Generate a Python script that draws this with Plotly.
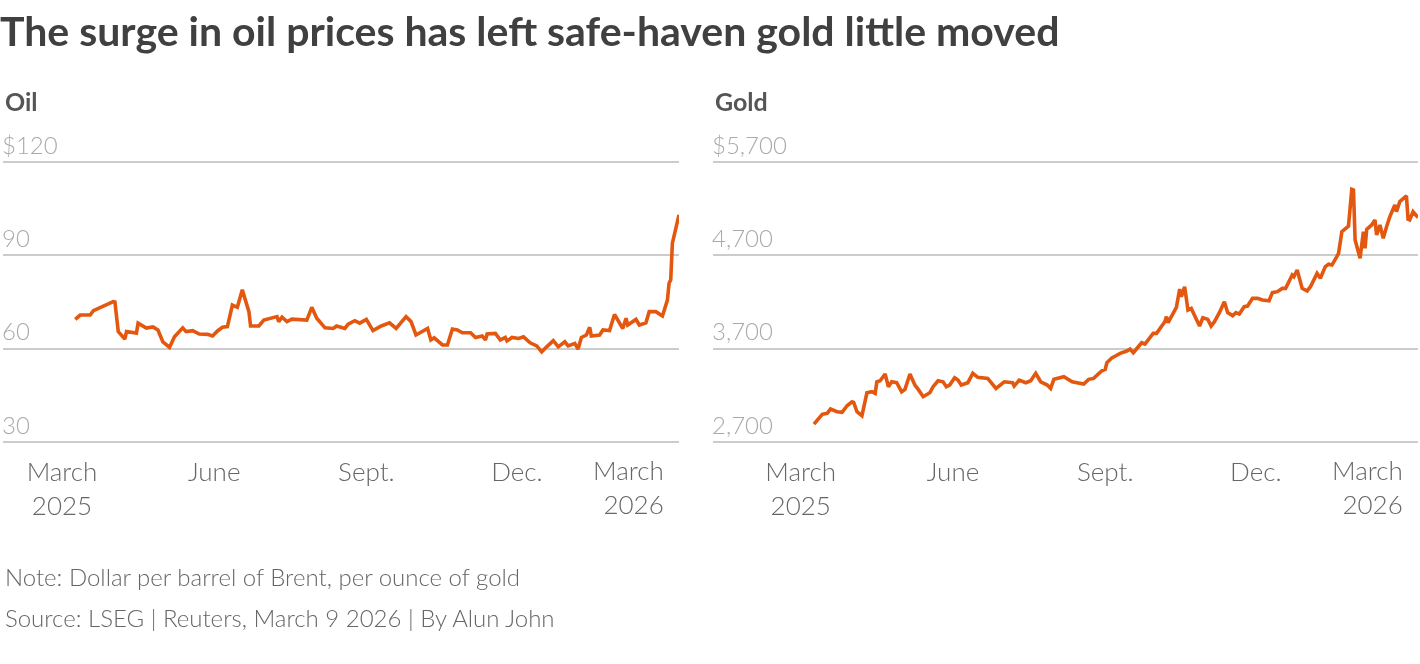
import plotly.graph_objects as go

# Brent crude, dollars per barrel
oil_dates = [
    "2025-03-09", "2025-03-12", "2025-03-18", "2025-03-20", "2025-03-26", "2025-04-01",
    "2025-04-02", "2025-04-03", "2025-04-04", "2025-04-08", "2025-04-09", "2025-04-15",
    "2025-04-16", "2025-04-21", "2025-04-25", "2025-04-28", "2025-05-01", "2025-05-05",
    "2025-05-08", "2025-05-13", "2025-05-15", "2025-05-19", "2025-05-23", "2025-05-28",
    "2025-05-31", "2025-06-03", "2025-06-06", "2025-06-09", "2025-06-12", "2025-06-15",
    "2025-06-18", "2025-06-22", "2025-06-23", "2025-06-28", "2025-07-01", "2025-07-09",
    "2025-07-10", "2025-07-12", "2025-07-15", "2025-07-18", "2025-07-23", "2025-07-27",
    "2025-07-30", "2025-08-02", "2025-08-07", "2025-08-12", "2025-08-14", "2025-08-19",
    "2025-08-21", "2025-08-25", "2025-08-28", "2025-09-01", "2025-09-05", "2025-09-09",
    "2025-09-10", "2025-09-15", "2025-09-19", "2025-09-25", "2025-09-28", "2025-10-01",
    "2025-10-08", "2025-10-10", "2025-10-12", "2025-10-17", "2025-10-20", "2025-10-23",
    "2025-10-26", "2025-10-29", "2025-11-03", "2025-11-06", "2025-11-10", "2025-11-12",
    "2025-11-13", "2025-11-18", "2025-11-21", "2025-11-24", "2025-11-25", "2025-11-28",
    "2025-12-02", "2025-12-05", "2025-12-09", "2025-12-13", "2025-12-16", "2025-12-19",
    "2025-12-23", "2025-12-26", "2025-12-30", "2026-01-01", "2026-01-05", "2026-01-07",
    "2026-01-09", "2026-01-12", "2026-01-14", "2026-01-15", "2026-01-20", "2026-01-22",
    "2026-01-26", "2026-01-29", "2026-02-03", "2026-02-05", "2026-02-06", "2026-02-11",
    "2026-02-13", "2026-02-17", "2026-02-19", "2026-02-23", "2026-02-27", "2026-03-02",
    "2026-03-03", "2026-03-04", "2026-03-05", "2026-03-09",
]
oil_prices = [
    69.4, 70.8, 70.8, 72.2, 73.7, 75.1,
    75.0, 70.0, 65.5, 63.1, 65.5, 65.0,
    68.2, 66.6, 67.0, 66.0, 62.2, 60.4,
    63.8, 66.7, 65.5, 65.8, 64.7, 64.6,
    64.1, 65.7, 66.9, 67.1, 74.0, 73.3,
    78.9, 71.9, 67.3, 67.3, 69.2, 70.3,
    68.7, 70.1, 68.7, 69.5, 69.2, 69.2,
    73.3, 69.8, 66.7, 66.5, 67.3, 66.5,
    67.9, 69.0, 68.2, 69.4, 65.8, 67.1,
    67.3, 68.3, 66.5, 70.3, 68.7, 64.4,
    66.5, 62.8, 63.5, 61.2, 61.2, 66.3,
    66.0, 65.1, 65.1, 63.6, 64.1, 62.8,
    64.7, 64.9, 62.8, 63.6, 62.5, 63.6,
    63.3, 63.8, 61.9, 60.9, 59.0, 60.6,
    62.6, 60.6, 62.2, 60.9, 61.7, 59.9,
    63.6, 64.4, 66.9, 64.1, 64.4, 66.0,
    65.8, 71.0, 66.5, 69.8, 67.6, 69.4,
    67.6, 68.3, 71.9, 71.9, 70.5, 75.6,
    81.0, 82.1, 93.9, 103.0,
]

# Gold, dollars per ounce
gold_dates = [
    "2025-03-09", "2025-03-11", "2025-03-14", "2025-03-17", "2025-03-19", "2025-03-23",
    "2025-03-26", "2025-03-29", "2025-04-01", "2025-04-02", "2025-04-04", "2025-04-07",
    "2025-04-10", "2025-04-13", "2025-04-15", "2025-04-16", "2025-04-18", "2025-04-21",
    "2025-04-23", "2025-04-25", "2025-04-28", "2025-05-01", "2025-05-03", "2025-05-06",
    "2025-05-09", "2025-05-11", "2025-05-14", "2025-05-18", "2025-05-20", "2025-05-23",
    "2025-05-26", "2025-05-28", "2025-05-30", "2025-06-02", "2025-06-04", "2025-06-06",
    "2025-06-10", "2025-06-13", "2025-06-16", "2025-06-22", "2025-06-24", "2025-06-27",
    "2025-07-02", "2025-07-07", "2025-07-08", "2025-07-11", "2025-07-15", "2025-07-18",
    "2025-07-21", "2025-07-24", "2025-07-28", "2025-07-30", "2025-08-01", "2025-08-06",
    "2025-08-07", "2025-08-12", "2025-08-15", "2025-08-19", "2025-08-22", "2025-08-25",
    "2025-08-30", "2025-09-01", "2025-09-02", "2025-09-05", "2025-09-08", "2025-09-10",
    "2025-09-14", "2025-09-16", "2025-09-18", "2025-09-23", "2025-09-25", "2025-09-30",
    "2025-10-02", "2025-10-07", "2025-10-08", "2025-10-09", "2025-10-14", "2025-10-16",
    "2025-10-17", "2025-10-19", "2025-10-21", "2025-10-23", "2025-10-28", "2025-10-30",
    "2025-11-02", "2025-11-04", "2025-11-06", "2025-11-09", "2025-11-12", "2025-11-14",
    "2025-11-17", "2025-11-19", "2025-11-21", "2025-11-24", "2025-11-26", "2025-11-29",
    "2025-12-02", "2025-12-05", "2025-12-09", "2025-12-11", "2025-12-14", "2025-12-17",
    "2025-12-19", "2025-12-23", "2025-12-24", "2025-12-26", "2025-12-29", "2026-01-01",
    "2026-01-03", "2026-01-07", "2026-01-09", "2026-01-12", "2026-01-14", "2026-01-16",
    "2026-01-18", "2026-01-20", "2026-01-22", "2026-01-25", "2026-01-26", "2026-01-28",
    "2026-01-29", "2026-01-30", "2026-02-02", "2026-02-04", "2026-02-05", "2026-02-06",
    "2026-02-09", "2026-02-11", "2026-02-12", "2026-02-14", "2026-02-16", "2026-02-18",
    "2026-02-20", "2026-02-23", "2026-02-24", "2026-02-26", "2026-03-02", "2026-03-03",
    "2026-03-04", "2026-03-06", "2026-03-09",
]
gold_prices = [
    2893, 2936, 2997, 3008, 3054, 3025,
    3018, 3089, 3132, 3125, 3025, 2982,
    3228, 3239, 3221, 3346, 3357, 3429,
    3293, 3346, 3336, 3239, 3264, 3429,
    3311, 3264, 3186, 3228, 3293, 3357,
    3346, 3293, 3311, 3389, 3364, 3311,
    3336, 3436, 3393, 3382, 3336, 3275,
    3346, 3336, 3300, 3364, 3336, 3357,
    3436, 3346, 3311, 3275, 3372, 3389,
    3400, 3346, 3336, 3321, 3372, 3382,
    3464, 3479, 3550, 3600, 3630, 3650,
    3675, 3696, 3657, 3764, 3750, 3864,
    3864, 3989, 4043, 3979, 4143, 4339,
    4257, 4364, 4114, 4132, 3943, 4032,
    4014, 3943, 3989, 4086, 4204, 4086,
    4054, 4086, 4071, 4150, 4157, 4239,
    4239, 4221, 4214, 4300, 4311, 4346,
    4346, 4489, 4471, 4543, 4346, 4318,
    4364, 4507, 4454, 4579, 4604, 4596,
    4657, 4721, 4954, 5000, 5014, 5407,
    5400, 4864, 4668, 4954, 4775, 4979,
    5025, 5079, 4918, 5025, 4882, 5007,
    5114, 5239, 5168, 5275, 5336, 5086,
    5079, 5168, 5104,
]

oil_ticks = [30, 60, 90, 120]
oil_tick_text = ["30", "60", "90", "$120"]
gold_ticks = [2700, 3700, 4700, 5700]
gold_tick_text = ["2,700", "3,700", "4,700", "$5,700"]
month_ticks = ["2025-03-01", "2025-06-01", "2025-09-01", "2025-12-01"]
month_text = ["March<br>2025", "June", "Sept.", "Dec."]
last_tick = "2026-03-01"
last_text = "March<br>2026"

W, H = 1420, 664
FONT = "Lato"
ORANGE = "#e4570f"

def px_x(p):
    return p / W

def px_y(p):
    return 1 - p / H

fig = go.Figure()
fig.add_trace(go.Scatter(x=oil_dates, y=oil_prices, mode="lines", xaxis="x", yaxis="y",
                         line=dict(color=ORANGE, width=3.6), hoverinfo="x+y"))
fig.add_trace(go.Scatter(x=gold_dates, y=gold_prices, mode="lines", xaxis="x2", yaxis="y2",
                         line=dict(color=ORANGE, width=3.6), hoverinfo="x+y"))

xcommon = dict(type="date", showgrid=False, showline=False, zeroline=False, ticks="",
               tickvals=month_ticks, ticktext=month_text, ticklabelstandoff=11,
               tickfont=dict(family=FONT, size=26, color="#666666", weight=300), fixedrange=True)
ycommon = dict(showgrid=True, gridcolor="#cccccc", gridwidth=2, zeroline=False, showline=False,
               ticks="", ticklabelposition="inside top", ticklabelstandoff=-4,
               tickfont=dict(family=FONT, size=24, color="#aaaaaa", weight=300), fixedrange=True)

# the top of each y range leaves room for the "$" label sitting above the top gridline
fig.update_layout(
    width=W, height=H,
    margin=dict(l=0, r=0, t=0, b=0),
    paper_bgcolor="white", plot_bgcolor="white",
    showlegend=False,
    font=dict(family=FONT),
    title=dict(text="<b>The surge in oil prices has left safe-haven gold little moved</b>",
               x=0, xanchor="left", xref="paper", y=px_y(32), yanchor="middle", yref="container",
               font=dict(family=FONT, size=41, color="#404040")),
    xaxis=dict(xcommon, domain=[px_x(3), px_x(679)], range=["2025-01-24 08:00", "2026-03-09"],
               anchor="y"),
    xaxis2=dict(xcommon, domain=[px_x(713), px_x(1418)], range=["2025-01-07", "2026-03-09"],
                anchor="y2"),
    yaxis=dict(ycommon, domain=[px_y(443.3), px_y(124.6)], range=[29.6, 132],
               tickvals=oil_ticks, ticktext=oil_tick_text, anchor="x"),
    yaxis2=dict(ycommon, domain=[px_y(443.3), px_y(124.6)], range=[2687, 6100],
                tickvals=gold_ticks, ticktext=gold_tick_text, anchor="x2"),
)

annos = [
    dict(text="<b>Oil</b>", x=px_x(3), y=px_y(101), font=dict(size=25, color="#555555")),
    dict(text="<b>Gold</b>", x=px_x(713), y=px_y(101), font=dict(size=25, color="#555555")),
    dict(text="Note: Dollar per barrel of Brent, per ounce of gold", x=px_x(3), y=px_y(576),
         font=dict(size=24, color="#666666", weight=300)),
    dict(text="Source: LSEG | Reuters, March 9 2026 | By Alun John", x=px_x(3), y=px_y(617),
         font=dict(size=24, color="#666666", weight=300)),
]
for a in annos:
    a.update(xref="paper", yref="paper", xanchor="left", yanchor="middle", showarrow=False)
    a["font"]["family"] = FONT
    fig.add_annotation(**a)

# last month label sits flush right against its tick, like the original
for xr in ["x", "x2"]:
    fig.add_annotation(text=last_text, x=last_tick, xref=xr, y=px_y(452), yref="paper",
                       xanchor="right", yanchor="top", align="right", showarrow=False,
                       font=dict(family=FONT, size=26, color="#666666", weight=300))

# no body margin; grayscale text antialiasing so thin strokes don't pick up colour fringes
page_js = ("document.body.style.margin='0';"
           "document.querySelectorAll('.svg-container').forEach(function(e){e.style.willChange='transform';});")
fig.write_html("out.html", config={"displayModeBar": False}, post_script=page_js)
